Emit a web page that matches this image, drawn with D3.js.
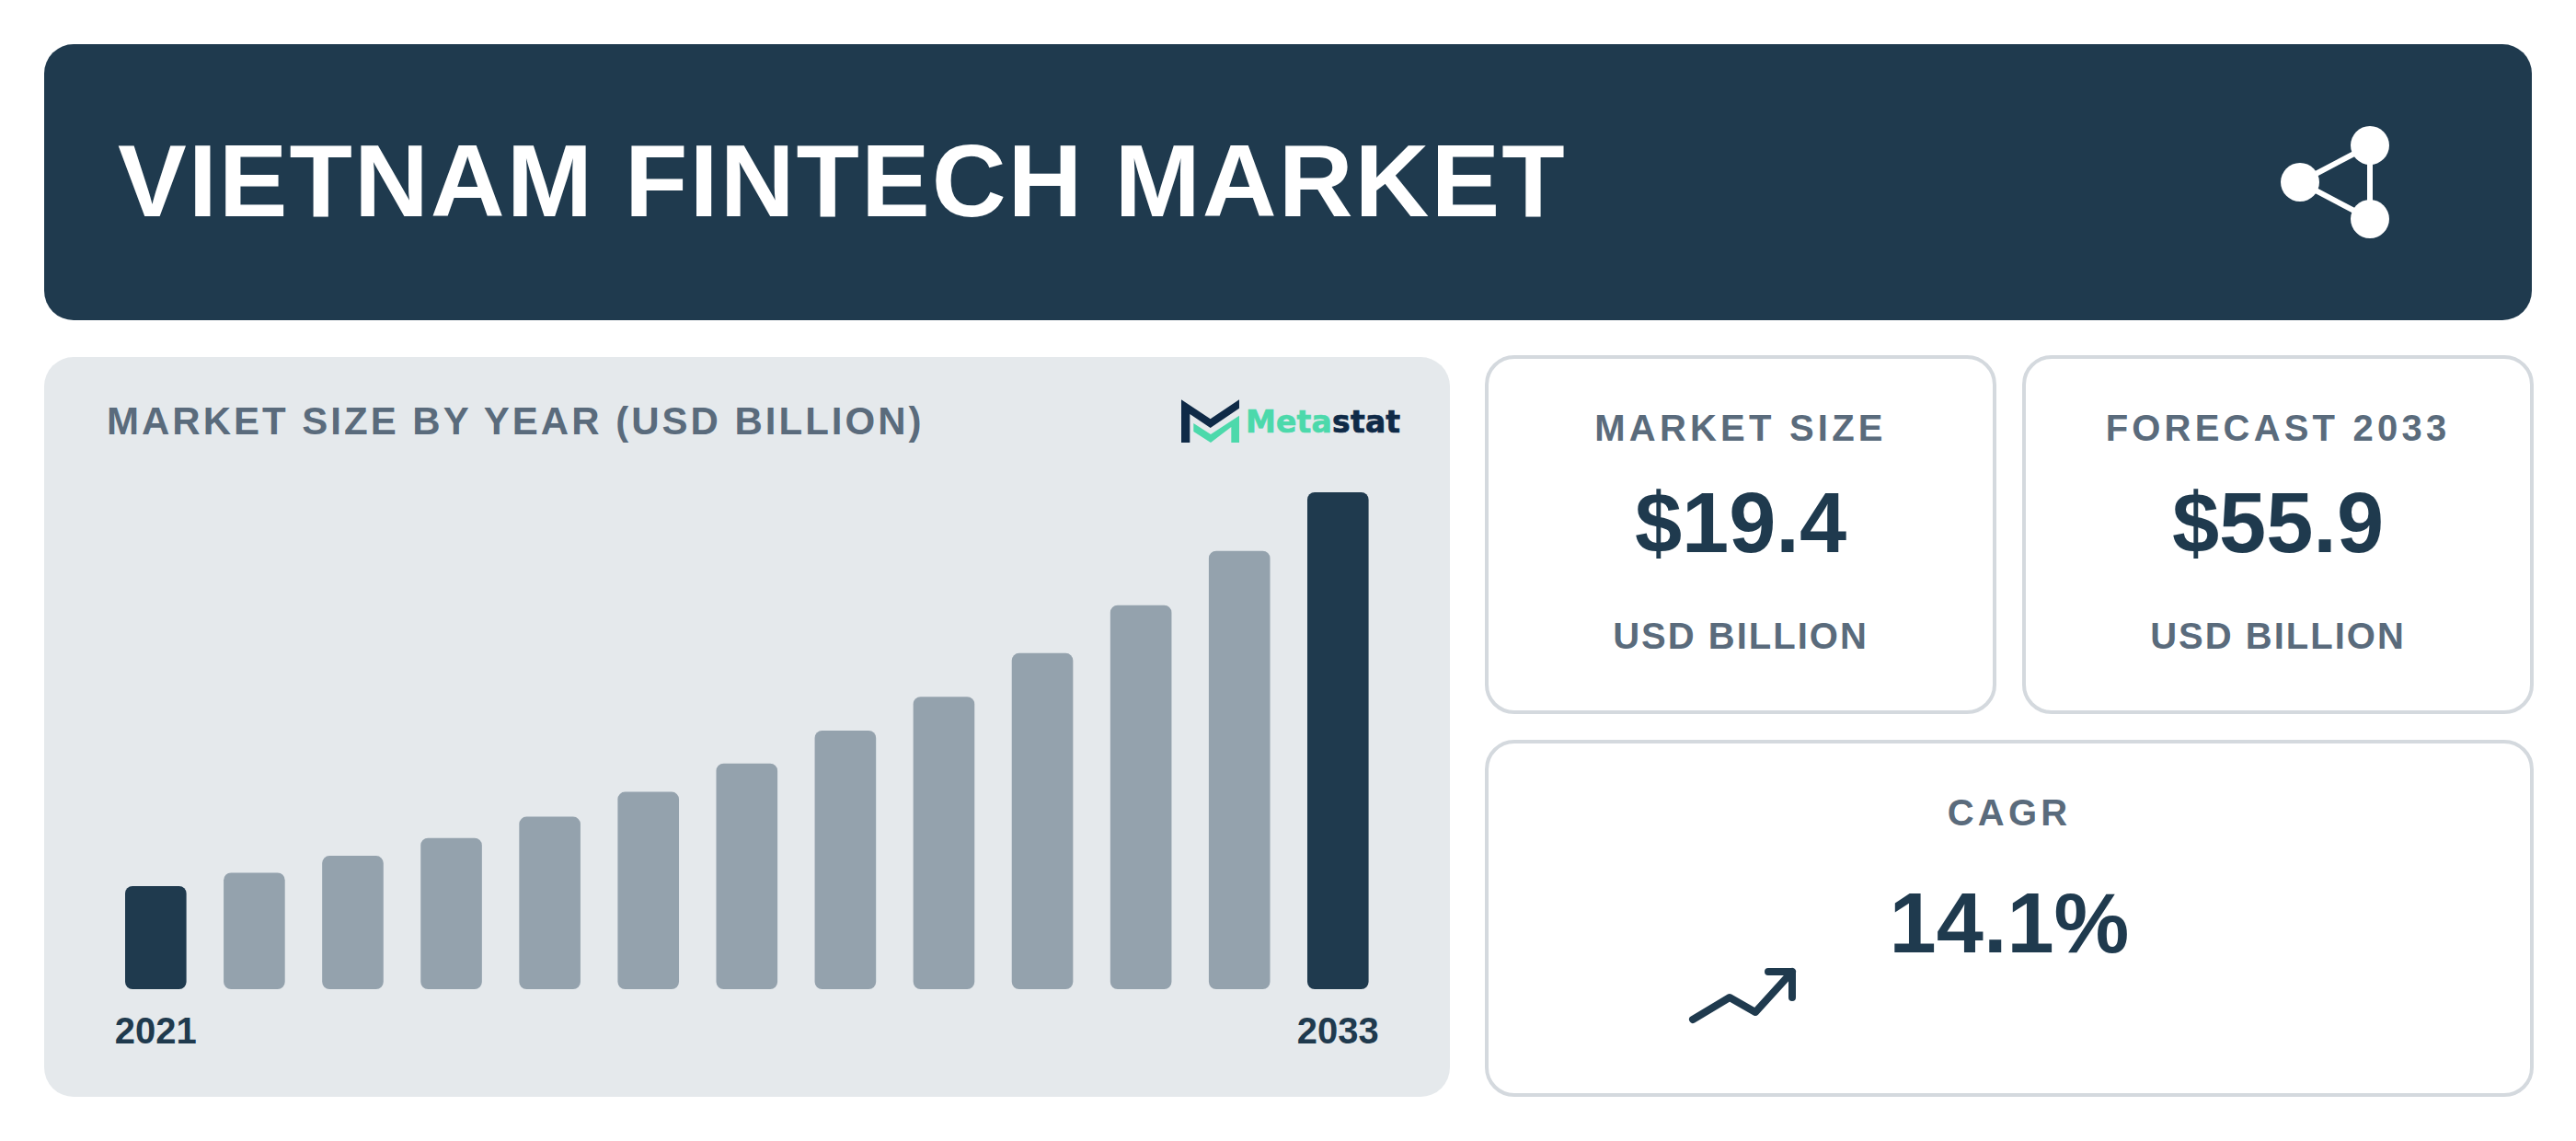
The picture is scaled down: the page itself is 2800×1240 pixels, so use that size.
<!DOCTYPE html>
<html>
<head>
<meta charset="utf-8">
<script src="https://cdn.jsdelivr.net/npm/d3@7"></script>
<style>
  html, body { margin: 0; background: #fff; }
  svg { display: block; }
  text { font-family: "Liberation Sans", Arial, sans-serif; }
</style>
</head>
<body>
<div id="chart"></div>
<script>
const years = [2021, 2022, 2023, 2024, 2025, 2026, 2027, 2028, 2029, 2030, 2031, 2032, 2033];
const marketSize = [11.6, 13.1, 15.0, 17.0, 19.4, 22.2, 25.4, 29.1, 32.9, 37.8, 43.2, 49.3, 55.9];
const yearLabels = [2021, 2033];
const highlightYears = [2021, 2033];

const title = 'VIETNAM FINTECH MARKET';
const chartTitle = 'MARKET SIZE BY YEAR (USD BILLION)';
const cardLabels = ['MARKET SIZE', 'FORECAST 2033'];
const cardValues = ['$19.4', '$55.9'];
const cardUnits = ['USD BILLION', 'USD BILLION'];
const cagrLabel = 'CAGR';
const cagrValue = '14.1%';

const navy = '#1f3a4e';
const slate = '#5a6b7c';
const border = '#d4d9de';

const svg = d3.select('#chart')
    .append('svg')
    .attr('width', 2800)
    .attr('height', 1240);

svg.append('rect').attr('width', 2800).attr('height', 1240).attr('fill', '#fff');

// header band
svg.append('rect')
    .attr('x', 48).attr('y', 48)
    .attr('width', 2704).attr('height', 300)
    .attr('rx', 32)
    .attr('fill', navy);

svg.append('text')
    .text(title)
    .attr('x', 128).attr('y', 235)
    .attr('font-size', 112)
    .attr('font-weight', 700)
    .attr('letter-spacing', 2)
    .attr('fill', '#fff');

// share icon
const share = svg.append('g').attr('fill', '#fff').attr('stroke', '#fff');
share.append('path')
    .attr('d', 'M2500 198L2576 158V238Z')
    .attr('fill', 'none')
    .attr('stroke-width', 6);
share.selectAll('circle')
    .data([[2500, 198], [2576, 158], [2576, 238]])
    .enter()
    .append('circle')
    .attr('cx', d => d[0])
    .attr('cy', d => d[1])
    .attr('r', 21)
    .attr('stroke', 'none');

// chart panel
svg.append('rect')
    .attr('x', 48).attr('y', 388)
    .attr('width', 1528).attr('height', 804)
    .attr('rx', 32)
    .attr('fill', '#e5e9ec');

svg.append('text')
    .text(chartTitle)
    .attr('x', 116).attr('y', 472)
    .attr('font-size', 42)
    .attr('font-weight', 700)
    .attr('letter-spacing', 3)
    .attr('fill', slate);

// logo
const logo = svg.append('g').attr('transform', 'translate(1200,400) scale(0.3333)');
logo.append('path')
    .attr('d', 'M252 103L347 166L441 103V131L347 195L280 150V243H252Z')
    .attr('fill', '#0f2a47');
logo.append('path')
    .attr('d', 'M292 180L348 216L441 155V243H415V192L348 243L292 207Z')
    .attr('fill', '#4cd9ab');
const logoText = svg.append('text')
    .attr('x', 1354).attr('y', 470)
    .attr('font-size', 33)
    .attr('font-weight', 700)
    .attr('letter-spacing', 0.2)
    .attr('stroke-width', 0.7)
    .style('font-family', '"DejaVu Sans"');
logoText.append('tspan').text('Meta').attr('fill', '#4cd9ab').attr('stroke', '#4cd9ab');
logoText.append('tspan').text('stat').attr('fill', '#0f2a47').attr('stroke', '#0f2a47');

// bars
const x = d3.scaleBand()
    .domain(years)
    .range([136, 1487.6])
    .paddingInner(0.378)
    .paddingOuter(0);

const y = d3.scaleLinear()
    .domain([0, d3.max(marketSize)])
    .range([1075, 535]);

svg.selectAll('.bar')
    .data(years)
    .enter()
    .append('rect')
    .attr('class', 'bar')
    .attr('x', d => x(d))
    .attr('y', (d, i) => y(marketSize[i]))
    .attr('width', x.bandwidth())
    .attr('height', (d, i) => y(0) - y(marketSize[i]))
    .attr('rx', 8)
    .attr('fill', d => highlightYears.includes(d) ? navy : '#94a2ad');

const xAxis = d3.axisBottom(x)
    .tickValues(yearLabels)
    .tickSize(0)
    .tickPadding(31);

const axisG = svg.append('g')
    .attr('transform', `translate(0,${y(0)})`)
    .call(xAxis);
axisG.select('.domain').remove();
axisG.selectAll('text')
    .attr('font-size', 40)
    .attr('font-weight', 700)
    .attr('fill', navy)
    .style('font-family', '"Liberation Sans"');

// stat cards
function card(cx, cy, w, h) {
    svg.append('rect')
        .attr('x', cx).attr('y', cy)
        .attr('width', w).attr('height', h)
        .attr('rx', 30)
        .attr('fill', '#fff')
        .attr('stroke', border)
        .attr('stroke-width', 4);
}

function label(txt, cx, by, size, weight, spacing, color) {
    svg.append('text')
        .text(txt)
        .attr('x', cx).attr('y', by)
        .attr('text-anchor', 'middle')
        .attr('font-size', size)
        .attr('font-weight', weight)
        .attr('letter-spacing', spacing)
        .attr('fill', color);
}

const cardX = [1616, 2200];
cardLabels.forEach((d, i) => {
    const cx = cardX[i];
    card(cx, 388, 552, 386);
    label(d, cx + 276, 479, 40, 700, 4.2, slate);
    label(cardValues[i], cx + 276, 600, 92, 700, 0, navy);
    label(cardUnits[i], cx + 276, 705, 40, 700, 2, slate);
});

card(1616, 806, 1136, 384);
label(cagrLabel, 2184, 897, 40, 700, 4.2, slate);
label(cagrValue, 2184, 1035, 92, 700, 0, navy);

// trend arrow
svg.append('path')
    .attr('d', 'M1840 1108L1880 1084L1908 1100L1948 1056M1922 1056H1948V1084')
    .attr('fill', 'none')
    .attr('stroke', navy)
    .attr('stroke-width', 8)
    .attr('stroke-linecap', 'round')
    .attr('stroke-linejoin', 'round');
</script>
</body>
</html>
